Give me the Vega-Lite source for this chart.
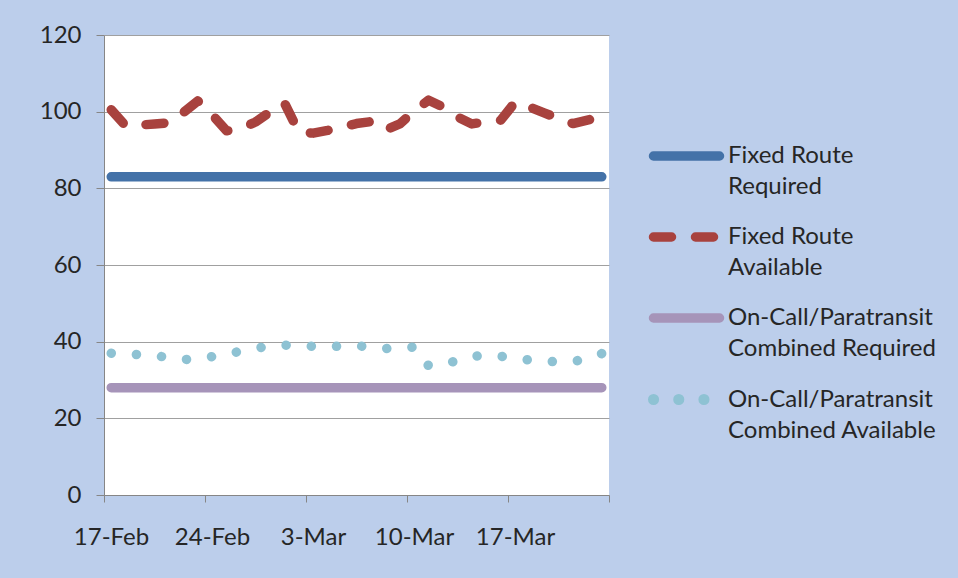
{
  "$schema": "https://vega.github.io/schema/vega-lite/v6.json",
  "width": 505,
  "height": 460,
  "autosize": {"type": "none"},
  "padding": {"left": 104, "top": 35, "right": 349, "bottom": 83},
  "background": "#BCCEEB",
  "config": {
    "font": "Lato",
    "view": {"fill": "white", "stroke": null}
  },
  "datasets": {
    "d": [
      {"date": "2014-02-17T12:00:00", "series": "Fixed Route Required", "value": 83},
      {"date": "2014-03-23T12:00:00", "series": "Fixed Route Required", "value": 83},
      {"date": "2014-02-17T12:00:00", "series": "Fixed Route Available", "value": 100.5},
      {"date": "2014-02-18T12:00:00", "series": "Fixed Route Available", "value": 96.3},
      {"date": "2014-02-19T12:00:00", "series": "Fixed Route Available", "value": 96.5},
      {"date": "2014-02-20T12:00:00", "series": "Fixed Route Available", "value": 96.8},
      {"date": "2014-02-21T12:00:00", "series": "Fixed Route Available", "value": 97.1},
      {"date": "2014-02-22T12:00:00", "series": "Fixed Route Available", "value": 99.8},
      {"date": "2014-02-23T12:00:00", "series": "Fixed Route Available", "value": 102.8},
      {"date": "2014-02-24T12:00:00", "series": "Fixed Route Available", "value": 99.2},
      {"date": "2014-02-25T12:00:00", "series": "Fixed Route Available", "value": 95.0},
      {"date": "2014-02-26T12:00:00", "series": "Fixed Route Available", "value": 95.6},
      {"date": "2014-02-27T12:00:00", "series": "Fixed Route Available", "value": 97.3},
      {"date": "2014-02-28T12:00:00", "series": "Fixed Route Available", "value": 99.9},
      {"date": "2014-03-01T12:00:00", "series": "Fixed Route Available", "value": 102.3},
      {"date": "2014-03-02T12:00:00", "series": "Fixed Route Available", "value": 94.7},
      {"date": "2014-03-03T12:00:00", "series": "Fixed Route Available", "value": 94.4},
      {"date": "2014-03-04T12:00:00", "series": "Fixed Route Available", "value": 95.1},
      {"date": "2014-03-05T12:00:00", "series": "Fixed Route Available", "value": 96.0},
      {"date": "2014-03-06T12:00:00", "series": "Fixed Route Available", "value": 96.9},
      {"date": "2014-03-07T12:00:00", "series": "Fixed Route Available", "value": 97.4},
      {"date": "2014-03-08T12:00:00", "series": "Fixed Route Available", "value": 95.2},
      {"date": "2014-03-09T12:00:00", "series": "Fixed Route Available", "value": 96.8},
      {"date": "2014-03-10T12:00:00", "series": "Fixed Route Available", "value": 100.2},
      {"date": "2014-03-11T12:00:00", "series": "Fixed Route Available", "value": 103.0},
      {"date": "2014-03-12T12:00:00", "series": "Fixed Route Available", "value": 101.2},
      {"date": "2014-03-13T12:00:00", "series": "Fixed Route Available", "value": 98.6},
      {"date": "2014-03-14T12:00:00", "series": "Fixed Route Available", "value": 96.8},
      {"date": "2014-03-15T12:00:00", "series": "Fixed Route Available", "value": 97.4},
      {"date": "2014-03-16T12:00:00", "series": "Fixed Route Available", "value": 97.8},
      {"date": "2014-03-17T12:00:00", "series": "Fixed Route Available", "value": 102.5},
      {"date": "2014-03-18T12:00:00", "series": "Fixed Route Available", "value": 101.2},
      {"date": "2014-03-19T12:00:00", "series": "Fixed Route Available", "value": 99.7},
      {"date": "2014-03-20T12:00:00", "series": "Fixed Route Available", "value": 98.2},
      {"date": "2014-03-21T12:00:00", "series": "Fixed Route Available", "value": 96.9},
      {"date": "2014-03-22T12:00:00", "series": "Fixed Route Available", "value": 97.8},
      {"date": "2014-03-23T12:00:00", "series": "Fixed Route Available", "value": 98.6},
      {"date": "2014-02-17T12:00:00", "series": "On-Call/Paratransit Combined Required", "value": 28},
      {"date": "2014-03-23T12:00:00", "series": "On-Call/Paratransit Combined Required", "value": 28},
      {"date": "2014-02-17T12:00:00", "series": "On-Call/Paratransit Combined Available", "value": 37.0},
      {"date": "2014-02-18T12:00:00", "series": "On-Call/Paratransit Combined Available", "value": 36.8},
      {"date": "2014-02-19T12:00:00", "series": "On-Call/Paratransit Combined Available", "value": 36.6},
      {"date": "2014-02-20T12:00:00", "series": "On-Call/Paratransit Combined Available", "value": 36.3},
      {"date": "2014-02-21T12:00:00", "series": "On-Call/Paratransit Combined Available", "value": 35.9},
      {"date": "2014-02-22T12:00:00", "series": "On-Call/Paratransit Combined Available", "value": 35.3},
      {"date": "2014-02-23T12:00:00", "series": "On-Call/Paratransit Combined Available", "value": 35.6},
      {"date": "2014-02-24T12:00:00", "series": "On-Call/Paratransit Combined Available", "value": 36.1},
      {"date": "2014-02-25T12:00:00", "series": "On-Call/Paratransit Combined Available", "value": 36.8},
      {"date": "2014-02-26T12:00:00", "series": "On-Call/Paratransit Combined Available", "value": 37.5},
      {"date": "2014-02-27T12:00:00", "series": "On-Call/Paratransit Combined Available", "value": 38.3},
      {"date": "2014-02-28T12:00:00", "series": "On-Call/Paratransit Combined Available", "value": 38.8},
      {"date": "2014-03-01T12:00:00", "series": "On-Call/Paratransit Combined Available", "value": 39.1},
      {"date": "2014-03-02T12:00:00", "series": "On-Call/Paratransit Combined Available", "value": 39.0},
      {"date": "2014-03-03T12:00:00", "series": "On-Call/Paratransit Combined Available", "value": 38.8},
      {"date": "2014-03-04T12:00:00", "series": "On-Call/Paratransit Combined Available", "value": 38.8},
      {"date": "2014-03-05T12:00:00", "series": "On-Call/Paratransit Combined Available", "value": 38.8},
      {"date": "2014-03-06T12:00:00", "series": "On-Call/Paratransit Combined Available", "value": 38.9},
      {"date": "2014-03-07T12:00:00", "series": "On-Call/Paratransit Combined Available", "value": 38.7},
      {"date": "2014-03-08T12:00:00", "series": "On-Call/Paratransit Combined Available", "value": 38.2},
      {"date": "2014-03-09T12:00:00", "series": "On-Call/Paratransit Combined Available", "value": 38.4},
      {"date": "2014-03-10T12:00:00", "series": "On-Call/Paratransit Combined Available", "value": 38.6},
      {"date": "2014-03-11T12:00:00", "series": "On-Call/Paratransit Combined Available", "value": 33.7},
      {"date": "2014-03-12T12:00:00", "series": "On-Call/Paratransit Combined Available", "value": 34.2},
      {"date": "2014-03-13T12:00:00", "series": "On-Call/Paratransit Combined Available", "value": 35.0},
      {"date": "2014-03-14T12:00:00", "series": "On-Call/Paratransit Combined Available", "value": 36.2},
      {"date": "2014-03-15T12:00:00", "series": "On-Call/Paratransit Combined Available", "value": 36.4},
      {"date": "2014-03-16T12:00:00", "series": "On-Call/Paratransit Combined Available", "value": 36.2},
      {"date": "2014-03-17T12:00:00", "series": "On-Call/Paratransit Combined Available", "value": 35.6},
      {"date": "2014-03-18T12:00:00", "series": "On-Call/Paratransit Combined Available", "value": 35.2},
      {"date": "2014-03-19T12:00:00", "series": "On-Call/Paratransit Combined Available", "value": 34.8},
      {"date": "2014-03-20T12:00:00", "series": "On-Call/Paratransit Combined Available", "value": 34.8},
      {"date": "2014-03-21T12:00:00", "series": "On-Call/Paratransit Combined Available", "value": 34.8},
      {"date": "2014-03-22T12:00:00", "series": "On-Call/Paratransit Combined Available", "value": 35.6},
      {"date": "2014-03-23T12:00:00", "series": "On-Call/Paratransit Combined Available", "value": 36.9}
    ]
  },
  "data": {"name": "d"},
  "mark": {"type": "line", "strokeWidth": 9.5, "strokeCap": "round", "strokeJoin": "round"},
  "encoding": {
    "x": {
      "field": "date",
      "type": "temporal",
      "scale": {"domain": [{"year": 2014, "month": 2, "date": 17}, {"year": 2014, "month": 3, "date": 24}], "nice": false},
      "axis": {
        "title": null,
        "values": [
          {"year": 2014, "month": 2, "date": 17},
          {"year": 2014, "month": 2, "date": 24},
          {"year": 2014, "month": 3, "date": 3},
          {"year": 2014, "month": 3, "date": 10},
          {"year": 2014, "month": 3, "date": 17},
          {"year": 2014, "month": 3, "date": 24}
        ],
        "labelExpr": "month(datum.value) == 2 && date(datum.value) == 24 ? '' : timeFormat(datum.value, '%-d-%b')",
        "grid": false,
        "domainColor": "#868686",
        "tickColor": "#868686",
        "tickSize": 7,
        "labelFontSize": 24,
        "labelColor": "#262626",
        "labelPadding": 23,
        "labelOffset": 7,
        "labelAlign": "center",
        "labelBaseline": "top"
      }
    },
    "y": {
      "field": "value",
      "type": "quantitative",
      "scale": {"domain": [0, 120], "nice": false},
      "axis": {
        "title": null,
        "values": [0, 20, 40, 60, 80, 100, 120],
        "gridColor": "#A0A0A0",
        "domainColor": "#868686",
        "tickColor": "#868686",
        "tickSize": 8,
        "labelFontSize": 24,
        "labelColor": "#262626",
        "labelPadding": 15
      }
    },
    "color": {
      "field": "series",
      "type": "nominal",
      "sort": ["Fixed Route Required", "Fixed Route Available", "On-Call/Paratransit Combined Required", "On-Call/Paratransit Combined Available"],
      "scale": {
        "domain": ["Fixed Route Required", "Fixed Route Available", "On-Call/Paratransit Combined Required", "On-Call/Paratransit Combined Available"],
        "range": ["#4472A8", "#A8423E", "#A694B9", "#8EC2D3"]
      },
      "legend": {
        "title": null,
        "orient": "none",
        "legendX": 544,
        "legendY": 83,
        "symbolType": "stroke",
        "symbolSize": 4356,
        "symbolStrokeWidth": 9,
        "labelFontSize": 24,
        "labelColor": "#262626",
        "labelLimit": 300,
        "labelOffset": 3,
        "rowPadding": 0,
        "labelExpr": "datum.label == 'Fixed Route Required' ? ['Fixed Route', 'Required'] : datum.label == 'Fixed Route Available' ? ['Fixed Route', 'Available'] : datum.label == 'On-Call/Paratransit Combined Required' ? ['On-Call/Paratransit', 'Combined Required'] : ['On-Call/Paratransit', 'Combined Available']",
        "encoding": {
          "symbols": {"strokeCap": {"value": "round"}},
          "labels": {"lineHeight": {"value": 31}}
        }
      }
    },
    "strokeDash": {
      "field": "series",
      "type": "nominal",
      "scale": {
        "domain": ["Fixed Route Required", "Fixed Route Available", "On-Call/Paratransit Combined Required", "On-Call/Paratransit Combined Available"],
        "range": [[1, 0], [18, 24], [1, 0], [0.1, 25.1]]
      },
      "legend": null
    },
    "strokeWidth": {
      "field": "series",
      "type": "nominal",
      "scale": {
        "type": "ordinal",
        "domain": ["Fixed Route Required", "Fixed Route Available", "On-Call/Paratransit Combined Required", "On-Call/Paratransit Combined Available"],
        "range": [9.5, 9.5, 9.5, 11]
      },
      "legend": null
    }
  }
}
